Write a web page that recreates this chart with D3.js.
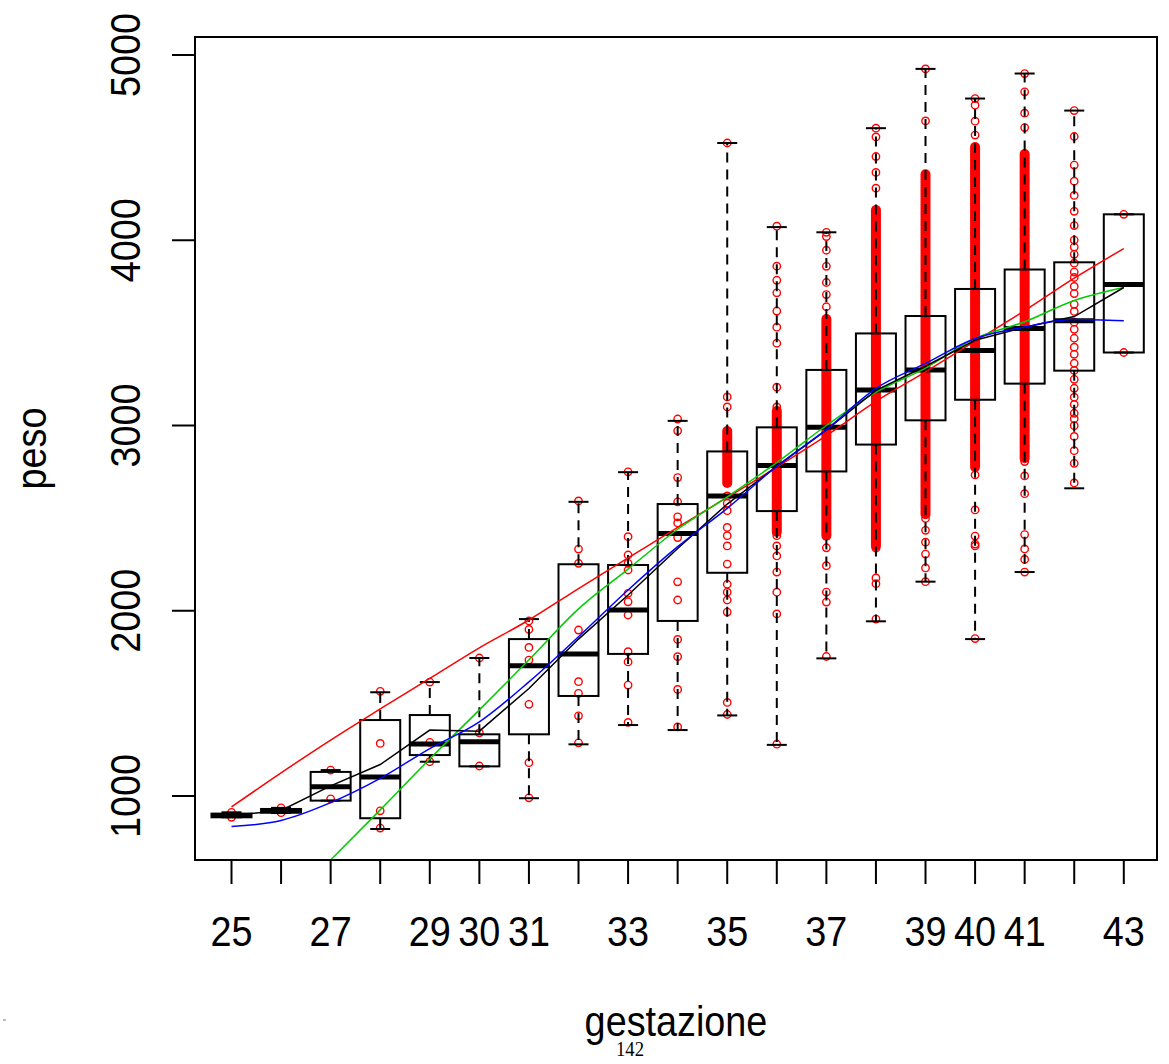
<!DOCTYPE html>
<html>
<head>
<meta charset="utf-8">
<script src="https://cdn.jsdelivr.net/npm/d3@7/dist/d3.min.js"></script>
<style>
  body { margin: 0; background: #fff; }
  text { font-family: 'Liberation Sans', Arial, sans-serif; }
</style>
</head>
<body>
<div id="chart"></div>
<script>
'use strict';

// ---- data ----
var gestazione = [25, 26, 27, 28, 29, 30, 31, 32, 33, 34, 35, 36, 37, 38, 39, 40, 41, 42, 43];

// R drops the labels that would overlap
var tickLabels = ['25', '', '27', '', '29', '30', '31', '', '33', '', '35', '', '37', '', '39', '40', '41', '', '43'];

// [whisker low, Q1, median, Q3, whisker high]
var boxStats = [
    [885, 885, 895, 905, 912],
    [908, 910, 920, 930, 936],
    [975, 975, 1050, 1130, 1140],
    [822, 880, 1103, 1410, 1560],
    [1185, 1221, 1281, 1437, 1615],
    [1160, 1160, 1293, 1333, 1745],
    [988, 1333, 1703, 1847, 1955],
    [1279, 1540, 1767, 2251, 2588],
    [1383, 1767, 2004, 2247, 2748],
    [1356, 1945, 2417, 2576, 3025],
    [1435, 2205, 2620, 2860, 4525],
    [1276, 2538, 2784, 2990, 4071],
    [1743, 2752, 2990, 3300, 4043],
    [1943, 2897, 3192, 3497, 4605],
    [2157, 3028, 3299, 3591, 4925],
    [1847, 3139, 3405, 3737, 4765],
    [2209, 3226, 3523, 3842, 4900],
    [2661, 3296, 3566, 3881, 4700],
    [3394, 3394, 3761, 4140, 4140]
];

// single observations (red circles)
var pointValues = [
    [885, 912],
    [910, 936],
    [985, 1140],
    [827, 920, 1284, 1565],
    [1185, 1290, 1615],
    [1162, 1341, 1745],
    [990, 1180, 1495, 1734, 1802, 1899, 1945],
    [1287, 1433, 1554, 1617, 1896, 2256, 2333, 2593],
    [1397, 1599, 1724, 1779, 1977, 2048, 2094, 2220, 2256, 2301, 2400, 2750],
    [1373, 1575, 1752, 1845, 2058, 2156, 2395, 2474, 2507, 2588, 2719, 2971, 3035],
    [1440, 1505, 1993, 2058, 2100, 2143, 2252, 2350, 2405, 2450, 2540, 2580, 2620, 3100, 3154, 4525],
    [1280, 1983, 2100, 2209, 2296, 2350, 2405, 3100, 3207, 3444, 3531, 3618, 3716, 3784, 3860, 4076],
    [1753, 2047, 2101, 2243, 2340, 3641, 3707, 3772, 3859, 3946, 4020, 4043],
    [1955, 2146, 2177, 2338, 4281, 4366, 4452, 4558, 4605],
    [2157, 2231, 2306, 2370, 2434, 2498, 4109, 4184, 4335, 4644, 4925],
    [1850, 2350, 2360, 2403, 2544, 2733, 4568, 4643, 4729, 4765],
    [2209, 2277, 2334, 2411, 2632, 2728, 2805, 4608, 4686, 4801, 4900],
    [2690, 2796, 2864, 2941, 2999, 3037, 3066, 3114, 3153, 3201, 3249, 3297, 3336, 3384, 3423, 3471,
     3519, 3558, 3616, 3654, 3712, 3751, 3799, 3828, 3876, 3924, 3963, 4001, 4079, 4156, 4242, 4319,
     4406, 4560, 4700],
    [3394, 4140]
];

// runs where the circles pile up into a solid red bar [from, to]
var denseRuns = [
    [], [], [], [], [], [], [], [], [], [],
    [[2690, 2970]],
    [[2425, 3078]],
    [[2405, 3575]],
    [[2349, 4163]],
    [[2521, 4356]],
    [[2776, 4503]],
    [[2823, 4465]],
    [],
    []
];

var redLine = [941, 1125, 1302, 1470, 1635, 1800, 1950, 2120, 2285, 2450, 2612, 2775, 2945, 3130, 3290, 3455, 3620, 3795, 3955];
var greenLine = [null, null, 655, 925, 1200, 1465, 1735, 2010, 2225, 2440, 2615, 2800, 3000, 3180, 3310, 3470, 3560, 3675, 3745];
var blueLine = [835, 868, 964, 1095, 1256, 1400, 1616, 1860, 2112, 2346, 2553, 2780, 2978, 3200, 3335, 3470, 3532, 3572, 3565];
var blackLine = [895, 922, 1055, 1170, 1356, 1350, 1580, 1847, 2085, 2336, 2576, 2779, 2976, 3190, 3320, 3460, 3530, 3588, 3745];

var yTicks = [1000, 2000, 3000, 4000, 5000];

// ---- layout ----
var width = 1169,
    height = 1064,
    plot = { left: 195, right: 1157, top: 37, bottom: 860 },
    boxWidth = 40,
    capWidth = 20,
    fontSize = 42,
    squeeze = 0.9;

var svg = d3.select('#chart').append('svg')
    .attr('width', width)
    .attr('height', height)
    .style('display', 'block');

var x = d3.scaleLinear().domain([25, 43]).range([231.5, 1123.8]);
var y = d3.scaleLinear().domain([1000, 5000]).range([796, 55]);

svg.append('clipPath').attr('id', 'plotClip')
    .append('rect')
    .attr('x', plot.left).attr('y', plot.top)
    .attr('width', plot.right - plot.left).attr('height', plot.bottom - plot.top);

var inner = svg.append('g').attr('clip-path', 'url(#plotClip)');

// points first, the boxes are drawn over them (no fill)
var pts = inner.append('g').attr('class', 'points');
gestazione.forEach(function (g, i) {
    pts.selectAll(null)
        .data(denseRuns[i])
        .enter().append('rect')
        .attr('x', x(g) - 5)
        .attr('width', 10)
        .attr('y', function (d) { return y(d[1]) - 5; })
        .attr('height', function (d) { return y(d[0]) - y(d[1]) + 10; })
        .attr('rx', 5)
        .attr('fill', '#ff0000');

    pts.selectAll(null)
        .data(pointValues[i])
        .enter().append('circle')
        .attr('cx', x(g))
        .attr('cy', function (d) { return y(d); })
        .attr('r', 3.7)
        .attr('fill', 'none')
        .attr('stroke', '#ff0000')
        .attr('stroke-width', 1.4);
});

// boxplot
var boxes = inner.selectAll('.box')
    .data(boxStats)
    .enter().append('g')
    .attr('class', 'box')
    .attr('transform', function (d, i) { return 'translate(' + x(gestazione[i]) + ',0)'; });

boxes.append('line')
    .attr('y1', function (d) { return y(d[3]); })
    .attr('y2', function (d) { return y(d[4]); })
    .attr('stroke', '#000').attr('stroke-width', 2).attr('stroke-dasharray', '10,7');
boxes.append('line')
    .attr('y1', function (d) { return y(d[1]); })
    .attr('y2', function (d) { return y(d[0]); })
    .attr('stroke', '#000').attr('stroke-width', 2).attr('stroke-dasharray', '10,7');
boxes.append('line')
    .attr('x1', -capWidth / 2).attr('x2', capWidth / 2)
    .attr('y1', function (d) { return y(d[4]); })
    .attr('y2', function (d) { return y(d[4]); })
    .attr('stroke', '#000').attr('stroke-width', 2);
boxes.append('line')
    .attr('x1', -capWidth / 2).attr('x2', capWidth / 2)
    .attr('y1', function (d) { return y(d[0]); })
    .attr('y2', function (d) { return y(d[0]); })
    .attr('stroke', '#000').attr('stroke-width', 2);
boxes.append('rect')
    .attr('x', -boxWidth / 2)
    .attr('width', boxWidth)
    .attr('y', function (d) { return y(d[3]); })
    .attr('height', function (d) { return y(d[1]) - y(d[3]); })
    .attr('fill', 'none')
    .attr('stroke', '#000')
    .attr('stroke-width', 2);
boxes.append('line')
    .attr('x1', -boxWidth / 2).attr('x2', boxWidth / 2)
    .attr('y1', function (d) { return y(d[2]); })
    .attr('y2', function (d) { return y(d[2]); })
    .attr('stroke', '#000').attr('stroke-width', 5);

// fitted lines
function drawLine(values, colour, curve) {
    var line = d3.line()
        .defined(function (d) { return d !== null; })
        .x(function (d, i) { return x(gestazione[i]); })
        .y(function (d) { return y(d); })
        .curve(curve);
    inner.append('path')
        .datum(values)
        .attr('d', line)
        .attr('fill', 'none')
        .attr('stroke', colour)
        .attr('stroke-width', 1.5);
}
drawLine(redLine, '#ff0000', d3.curveMonotoneX);
drawLine(greenLine, '#00cc00', d3.curveMonotoneX);
drawLine(blackLine, '#000000', d3.curveLinear);
drawLine(blueLine, '#0000ff', d3.curveMonotoneX);

// frame
svg.append('rect')
    .attr('x', plot.left).attr('y', plot.top)
    .attr('width', plot.right - plot.left).attr('height', plot.bottom - plot.top)
    .attr('fill', 'none').attr('stroke', '#000').attr('stroke-width', 2);

// x axis
var xAxis = svg.append('g');
xAxis.selectAll('line')
    .data(gestazione)
    .enter().append('line')
    .attr('x1', function (d) { return x(d); })
    .attr('x2', function (d) { return x(d); })
    .attr('y1', plot.bottom).attr('y2', plot.bottom + 24)
    .attr('stroke', '#000').attr('stroke-width', 2);
xAxis.selectAll('text')
    .data(gestazione)
    .enter().append('text')
    .attr('transform', function (d) { return 'translate(' + x(d) + ',946) scale(' + squeeze + ',1)'; })
    .attr('text-anchor', 'middle')
    .style('font-size', fontSize + 'px')
    .text(function (d, i) { return tickLabels[i]; });

// y axis
var yAxis = svg.append('g');
yAxis.selectAll('line')
    .data(yTicks)
    .enter().append('line')
    .attr('x1', plot.left - 23).attr('x2', plot.left)
    .attr('y1', function (d) { return y(d); })
    .attr('y2', function (d) { return y(d); })
    .attr('stroke', '#000').attr('stroke-width', 2);
yAxis.selectAll('text')
    .data(yTicks)
    .enter().append('text')
    .attr('transform', function (d) { return 'translate(140,' + y(d) + ') rotate(-90) scale(' + squeeze + ',1)'; })
    .attr('text-anchor', 'middle')
    .style('font-size', fontSize + 'px')
    .text(function (d) { return d; });

// axis titles
svg.append('text')
    .attr('transform', 'translate(46,' + (plot.top + plot.bottom) / 2 + ') rotate(-90) scale(' + squeeze + ',1)')
    .attr('text-anchor', 'middle')
    .style('font-size', fontSize + 'px')
    .text('peso');
svg.append('text')
    .attr('transform', 'translate(' + (plot.left + plot.right) / 2 + ',1036) scale(' + squeeze + ',1)')
    .attr('text-anchor', 'middle')
    .style('font-size', fontSize + 'px')
    .text('gestazione');

// page number from the source document (sits under the axis title, as in the scan)
svg.append('text')
    .attr('transform', 'translate(630,1056) scale(0.85,1)')
    .attr('text-anchor', 'middle')
    .style('font-family', "'Liberation Serif', 'Times New Roman', serif")
    .style('font-size', '22px')
    .text('142');

svg.append('rect')
    .attr('x', 3).attr('y', 1019).attr('width', 3).attr('height', 2)
    .attr('fill', '#bbb');
</script>
</body>
</html>
